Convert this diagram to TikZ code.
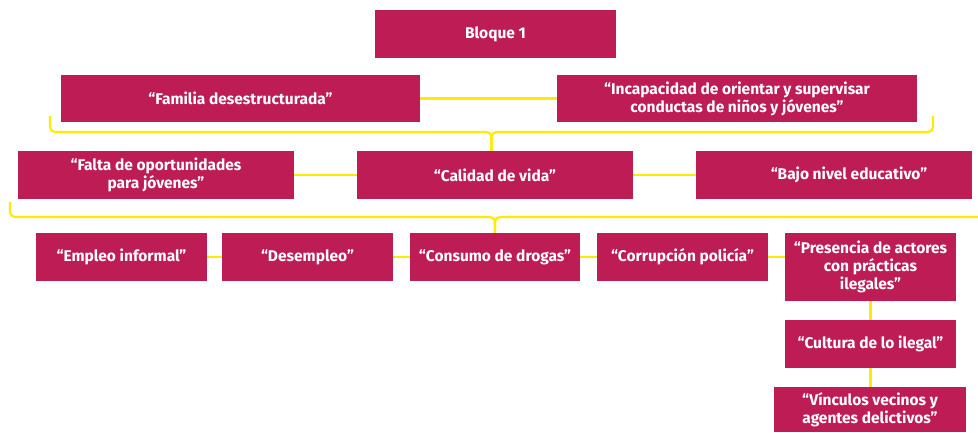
\documentclass[tikz,border=0pt]{standalone}
\usepackage{fontspec}
\setmainfont{Fira Sans}
\usepackage{tikz}

\definecolor{fucsia}{HTML}{BE1C55}
\definecolor{amarillo}{HTML}{FFEB00}

\begin{document}
\begin{tikzpicture}[x=1pt, y=-1pt]
\tikzstyle{box}=[fill=fucsia, text=white, inner sep=0pt, align=center, minimum height=48pt, minimum width=171pt, font=\fontsize{15.5}{18}\selectfont\bfseries]
\tikzstyle{link}=[draw=amarillo, line width=2.2pt]
\useasboundingbox (0,0) rectangle (978,432);
\node (bloque) [box, minimum width=241pt] at (495.5,34) {Bloque 1};
\node (familia) [box, minimum width=359pt, minimum height=47pt] at (240.5,98.5) {“Familia desestructurada”};
\node (incap) [box, minimum width=360pt, minimum height=47pt] at (737,98.5) {“Incapacidad de orientar y supervisar\\conductas de niños y jóvenes”};
\draw [link] (familia) -- (incap);
% llave superior
\coordinate (l1a) at (50,116);
\coordinate (l1b) at (933,116);
\coordinate (l1c) at (491.5,132);
\node (falta) [box, minimum width=276pt] at (156,175) {“Falta de oportunidades\\para jóvenes”};
\node (calidad) [box, minimum width=276pt] at (495,175) {“Calidad de vida”};
\node (bajo) [box, minimum width=276pt] at (834,175) {\hspace{30pt}“Bajo nivel educativo”};
\draw [link, rounded corners=5pt] (l1a) |- (l1c) -- (l1c |- calidad.north);
\draw [link, rounded corners=5pt] (l1b) |- (l1c) -- (l1c |- calidad.north);
\draw [link] (falta) -- (calidad);
\draw [link] (calidad) -- (bajo);
% llave inferior
\coordinate (l2a) at (10,202);
\coordinate (l2b) at (978,217);
\coordinate (l2c) at (495,217);
\node (empleo) [box] at (121.5,257) {“Empleo informal”};
\node (desempleo) [box] at (307.5,257) {“Desempleo”};
\node (consumo) [box, minimum width=170pt] at (495,257) {“Consumo de drogas”};
\node (corrupcion) [box] at (682.5,257) {“Corrupción policía”};
\node (presencia) [box, minimum height=68pt] at (870.5,267) {“Presencia de actores\\con prácticas\\ilegales”};
\node (cultura) [box] at (870.5,344) {“Cultura de lo ilegal”};
\node (vinculos) [box, minimum width=192pt, minimum height=45pt] at (870,409.5) {“Vínculos vecinos y\\agentes delictivos”};
\draw [link, rounded corners=5pt] (l2a) |- (l2c) -- (l2c |- consumo.north);
\draw [link, rounded corners=5pt] (l2b) -- (l2c) -- (l2c |- consumo.north);
\draw [link] (empleo) -- (desempleo);
\draw [link] (desempleo) -- (consumo);
\draw [link] (consumo) -- (corrupcion);
\draw [link] (corrupcion.east) -- (corrupcion.east -| presencia.west);
\draw [link] (presencia.south -| cultura.north) -- (cultura.north);
\draw [link] (cultura) -- (cultura |- vinculos.north);
\end{tikzpicture}
\end{document}
